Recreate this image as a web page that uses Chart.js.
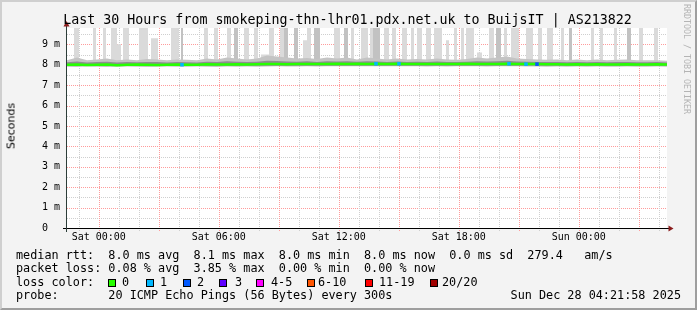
<!DOCTYPE html>
<html><head><meta charset="utf-8">
<script src="https://cdn.jsdelivr.net/npm/chart.js@4.4.1/dist/chart.umd.min.js"></script>
<style>
html,body{margin:0;padding:0;background:#f3f3f3;}
#wrap{position:relative;width:697px;height:310px;overflow:hidden;background:#f3f3f3;}
#frame{position:absolute;left:0;top:0;width:697px;height:310px;box-sizing:border-box;border-style:solid;border-width:2px;border-color:#cfcfcf #9e9e9e #9e9e9e #cfcfcf;}
#c{position:absolute;left:0;top:0;}
.t{position:absolute;font-family:'DejaVu Sans Mono',monospace;white-space:pre;color:#000;}
.lg{font-size:11.8px;line-height:11.8px;}
.box{position:absolute;width:6px;height:6px;border:1px solid #000;}
</style></head>
<body><div id="wrap">
<div id="frame"></div>
<canvas id="c" width="697" height="310"></canvas>
<div class="t" id="title" style="left:-1px;width:697px;text-align:center;top:13px;font-size:13.3px;line-height:13px;">Last 30 Hours from smokeping-thn-lhr01.pdx.net.uk to BuijsIT | AS213822</div>
<div class="t" style="left:11px;top:126px;transform:translate(-50%,-50%) rotate(-90deg);font-family:'DejaVu Sans',sans-serif;font-size:11px;line-height:11px;">Seconds</div>
<div class="t" style="left:682px;top:4px;width:10px;writing-mode:vertical-rl;font-size:8.3px;line-height:10px;color:#b4b4b4;">RRDTOOL / TOBI OETIKER</div>
<div class="t lg" style="left:16px;top:249.5px;">median rtt:  8.0 ms avg  8.1 ms max  8.0 ms min  8.0 ms now  0.0 ms sd  279.4   am/s</div>
<div class="t lg" style="left:16px;top:263px;">packet loss: 0.08 % avg  3.85 % max  0.00 % min  0.00 % now</div>
<div class="t lg" style="left:16px;top:276.5px;">loss color:</div>
<div id="lossLegend"></div>
<div class="t lg" style="left:16px;top:289.7px;">probe:       20 ICMP Echo Pings (56 Bytes) every 300s</div>
<div class="t lg" style="right:16px;top:289.7px;">Sun Dec 28 04:21:58 2025</div>
</div>
<script>
// ---- data ----
const xMin = -1.59, xMax = 28.41;           // hours relative to Sat 00:00
const xTickValues = [0, 6, 12, 18, 24];
const xTickLabels = ['Sat 00:00', 'Sat 06:00', 'Sat 12:00', 'Sat 18:00', 'Sun 00:00'];
const yMax = 9.8;
const yTickValues = [0, 1, 2, 3, 4, 5, 6, 7, 8, 9];
const yTickLabels = ['0  ', '1 m', '2 m', '3 m', '4 m', '5 m', '6 m', '7 m', '8 m', '9 m'];

const sampleStart = -1.59, sampleStep = 0.5;
const medianRtt = [8.00,8.01,7.99,8.00,8.01,7.98,8.00,8.01,8.00,7.99,8.00,8.01,8.00,8.00,8.02,8.01,8.01,8.02,8.01,8.02,8.03,8.03,8.02,8.03,8.04,8.03,8.04,8.05,8.04,8.05,8.04,8.05,8.04,8.05,8.04,8.04,8.03,8.04,8.03,8.04,8.05,8.04,8.03,8.04,8.05,8.04,8.03,8.03,8.02,8.02,8.01,8.02,8.01,8.02,8.01,8.01,8.02,8.01,8.01,8.02,8.01];
const smokeHigh = [8.22,8.35,8.22,8.26,8.30,8.22,8.26,8.22,8.28,8.26,8.22,8.26,8.24,8.22,8.30,8.26,8.35,8.30,8.26,8.30,8.45,8.40,8.35,8.30,8.33,8.28,8.35,8.30,8.35,8.26,8.35,8.30,8.26,8.30,8.26,8.28,8.26,8.30,8.26,8.24,8.28,8.35,8.30,8.35,8.40,8.30,8.28,8.26,8.24,8.26,8.22,8.26,8.22,8.26,8.22,8.24,8.26,8.22,8.22,8.22,8.20];
const smokeCore = [8.12,8.16,8.11,8.13,8.15,8.11,8.13,8.12,8.14,8.13,8.11,8.13,8.12,8.11,8.15,8.13,8.17,8.15,8.13,8.15,8.20,8.18,8.16,8.15,8.17,8.14,8.17,8.16,8.17,8.15,8.17,8.16,8.14,8.16,8.14,8.15,8.14,8.16,8.14,8.13,8.15,8.17,8.16,8.17,8.19,8.16,8.15,8.14,8.13,8.14,8.12,8.14,8.12,8.14,8.12,8.13,8.14,8.12,8.12,8.13,8.11];
const smokeLow = [7.90,7.89,7.91,7.90,7.89,7.90,7.91,7.90,7.89,7.90,7.91,7.90,7.90,7.91,7.90,7.89,7.91,7.90,7.91,7.90,7.91,7.92,7.91,7.91,7.92,7.91,7.92,7.93,7.92,7.93,7.92,7.93,7.92,7.93,7.92,7.92,7.91,7.92,7.91,7.92,7.93,7.92,7.91,7.92,7.93,7.92,7.91,7.91,7.90,7.91,7.90,7.91,7.90,7.91,7.90,7.90,7.91,7.90,7.90,7.91,7.90];

const spikeBase = 8.1;
const spikeStart = [-1.24,-0.29,0.21,0.61,0.91,1.21,2.01,2.61,3.61,4.11,5.26,5.76,6.41,6.76,7.26,7.76,8.11,8.51,9.06,9.26,9.76,10.21,10.41,10.76,11.76,12.26,12.61,13.11,13.56,13.71,14.26,14.66,15.16,15.61,15.91,16.36,16.76,17.36,17.76,18.11,18.36,18.91,19.51,19.86,20.26,20.61,21.36,21.96,22.41,23.11,23.51,24.61,25.06,25.76,26.41,27.01,27.76];
const spikeEnd   = [-0.99,-0.14,0.36,0.91,1.11,1.51,2.46,2.96,4.01,4.21,5.46,5.96,6.61,6.96,7.51,7.96,8.51,8.76,9.26,9.46,9.96,10.41,10.61,11.06,12.06,12.46,12.76,13.46,13.71,14.06,14.51,14.86,15.41,15.76,16.16,16.61,17.16,17.51,17.91,18.26,18.76,19.16,19.76,20.11,20.41,21.01,21.71,22.16,22.71,23.26,23.66,24.76,25.21,25.91,26.61,27.21,27.96];
const spikeTop   = [10,10,10,10,9.0,10,10,9.3,10,10,10,10,10,10,10,10,8.5,10,10,10,10,9.2,10,10,10,10,10,10,10,10,10,10,10,10,10,10,10,9.2,10,10,10,8.6,10,10,10,10,10,10,10,10,10,10,10,10,10,10,10];
const spikeDark  = [0,0,0,0,0,0,0,0,0,1,0,0,0,1,0,0,0,0,0,1,1,0,0,1,0,1,0,0,0,1,0,0,0,0,0,0,0,0,0,0,0,0,0,1,0,0,0,0,0,0,1,0,0,0,1,0,0];

const lossHours  = [4.16, 13.86, 15.01, 20.51, 21.36, 21.91];
const lossCounts = [1, 1, 1, 1, 1, 2];

const lossLegendLabels = ['0', '1', '2', '3', '4-5', '6-10', '11-19', '20/20'];
const lossLegendColors = ['#26ff00', '#00b8ff', '#0059ff', '#5e00ff', '#ff00ff', '#ff5500', '#ff0000', '#a10000'];
const lossBoxX   = [108, 146, 183, 219, 256, 307, 365, 430];
const lossLabelX = [122, 160, 197, 235, 271, 318, 379, 442];

// ---- legend boxes ----
const lg = document.getElementById('lossLegend');
lossLegendLabels.forEach((lab, i) => {
  const b = document.createElement('div');
  b.className = 'box';
  b.style.left = lossBoxX[i] + 'px'; b.style.top = '279px';
  b.style.background = lossLegendColors[i];
  lg.appendChild(b);
  const t = document.createElement('div');
  t.className = 't lg';
  t.style.left = lossLabelX[i] + 'px'; t.style.top = '276.5px';
  t.textContent = lab;
  lg.appendChild(t);
});

// ---- build series ----
const sampleX = i => sampleStart + i * sampleStep;
const medianPts = medianRtt.map((v, i) => ({x: sampleX(i), y: v}));
const highPts = smokeHigh.map((v, i) => ({x: sampleX(i), y: v}));
const corePts = smokeCore.map((v, i) => ({x: sampleX(i), y: v}));
const lowPts = smokeLow.map((v, i) => ({x: sampleX(i), y: v}));
function spikePoints(dark) {
  const pts = [{x: xMin, y: spikeBase}];
  for (let i = 0; i < spikeStart.length; i++) {
    if (spikeDark[i] !== dark) continue;
    pts.push({x: spikeStart[i], y: spikeBase}, {x: spikeStart[i], y: spikeTop[i]},
             {x: spikeEnd[i], y: spikeTop[i]}, {x: spikeEnd[i], y: spikeBase});
  }
  pts.push({x: xMax, y: spikeBase});
  return pts;
}
const lossPts = lossHours.map(h => ({x: h, y: medianRtt[Math.round((h - sampleStart) / sampleStep)]}));
const lossPtColors = lossCounts.map(c => lossLegendColors[c]);

const MONO = "'DejaVu Sans Mono', monospace";
const majorColor = '#ff9b9b', minorColor = '#cfcfcf';

const rrdPlugin = {
  id: 'rrd',
  beforeDraw(chart) {
    const {ctx, chartArea: a} = chart;
    ctx.save(); ctx.fillStyle = '#ffffff';
    ctx.fillRect(a.left, a.top, a.right - a.left, a.bottom - a.top);
    ctx.restore();
  },
  beforeDatasetsDraw(chart) {
    const {ctx, chartArea: a, scales: {x, y}} = chart;
    ctx.save();
    ctx.lineWidth = 1;
    ctx.setLineDash([1, 1]);
    for (let k = 1; k * 0.5 < yMax; k++) {
      const v = k * 0.5;
      const py = Math.round(y.getPixelForValue(v)) + 0.5;
      ctx.strokeStyle = (k % 2 === 0) ? majorColor : minorColor;
      ctx.beginPath(); ctx.moveTo(a.left, py); ctx.lineTo(a.right, py); ctx.stroke();
    }
    for (let h = Math.ceil(xMin); h <= xMax; h++) {
      const px = Math.round(x.getPixelForValue(h)) + 0.5;
      ctx.strokeStyle = (((h % 3) + 3) % 3 === 0) ? majorColor : minorColor;
      ctx.beginPath(); ctx.moveTo(px, a.top); ctx.lineTo(px, a.bottom + 4); ctx.stroke();
    }
    ctx.restore();
  },
  afterDatasetsDraw(chart) {
    const {ctx, chartArea: a} = chart;
    ctx.save();
    ctx.lineWidth = 1;
    ctx.strokeStyle = '#000';
    ctx.beginPath(); ctx.moveTo(a.left - 4, a.bottom + 0.5); ctx.lineTo(a.right + 2, a.bottom + 0.5); ctx.stroke();
    ctx.strokeStyle = '#2c3d38';
    ctx.beginPath(); ctx.moveTo(a.left - 0.5, a.bottom + 4); ctx.lineTo(a.left - 0.5, a.top - 2); ctx.stroke();
    ctx.fillStyle = '#8a1c1c';
    ctx.beginPath(); ctx.moveTo(a.left - 0.5, a.top - 7); ctx.lineTo(a.left - 3.5, a.top - 1.5); ctx.lineTo(a.left + 2.5, a.top - 1.5); ctx.closePath(); ctx.fill();
    ctx.beginPath(); ctx.moveTo(a.right + 6.5, a.bottom + 0.5); ctx.lineTo(a.right + 1.5, a.bottom - 2.5); ctx.lineTo(a.right + 1.5, a.bottom + 3.5); ctx.closePath(); ctx.fill();
    ctx.restore();
  }
};

new Chart(document.getElementById('c'), {
  type: 'line',
  data: {
    datasets: [
      {data: medianPts, borderColor: '#26ff00', borderWidth: 2.5, pointRadius: 0, fill: false, order: 1},
      {data: lossPts, showLine: false, pointStyle: 'rect', pointRadius: 2.5, pointBorderWidth: 0, pointBackgroundColor: lossPtColors, order: 0},
      {data: corePts, borderWidth: 0, borderColor: 'rgba(0,0,0,0)', pointRadius: 0, fill: {value: 7.95}, backgroundColor: '#8e8e8e', order: 2},
      {data: highPts, borderWidth: 0, borderColor: 'rgba(0,0,0,0)', pointRadius: 0, fill: 4, backgroundColor: '#c4c4c4', order: 3},
      {data: lowPts, borderWidth: 0, borderColor: 'rgba(0,0,0,0)', pointRadius: 0, fill: false, order: 3},
      {data: spikePoints(1), borderWidth: 0, borderColor: 'rgba(0,0,0,0)', pointRadius: 0, fill: {value: spikeBase}, backgroundColor: '#c2c2c2', order: 4},
      {data: spikePoints(0), borderWidth: 0, borderColor: 'rgba(0,0,0,0)', pointRadius: 0, fill: {value: spikeBase}, backgroundColor: '#dadada', order: 5}
    ]
  },
  options: {
    responsive: false, animation: false, devicePixelRatio: 1,
    layout: {padding: {left: 0, right: 30, top: 28, bottom: 0}},
    plugins: {legend: {display: false}, tooltip: {enabled: false}, title: {display: false}},
    scales: {
      x: {
        type: 'linear', min: xMin, max: xMax,
        afterFit: s => { s.height = 82; },
        afterBuildTicks: s => { s.ticks = xTickValues.map(v => ({value: v})); },
        ticks: {callback: (v, i) => xTickLabels[i], autoSkip: false, maxRotation: 0, padding: 3, font: {family: MONO, size: 10}, color: '#000'},
        grid: {display: false, drawTicks: false}, border: {display: false}
      },
      y: {
        min: 0, max: yMax,
        afterFit: s => { s.width = 67; },
        afterBuildTicks: s => { s.ticks = yTickValues.map(v => ({value: v})); },
        ticks: {callback: (v, i) => yTickLabels[i], padding: 7, font: {family: MONO, size: 10}, color: '#000'},
        grid: {display: false, drawTicks: false}, border: {display: false}
      }
    }
  },
  plugins: [rrdPlugin]
});
</script>
</body></html>
